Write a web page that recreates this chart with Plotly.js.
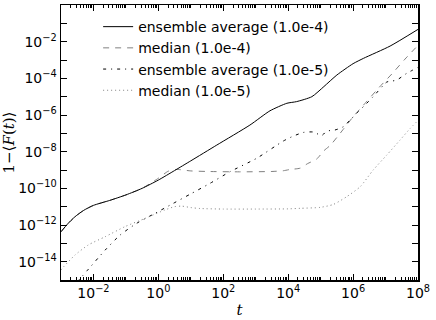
<!DOCTYPE html>
<html>
<head>
<meta charset="utf-8">
<script src="https://cdn.plot.ly/plotly-3.0.1.min.js"></script>
<style>
  html, body { margin: 0; padding: 0; background: #fff; }
  #chart { width: 436px; height: 320px; }
</style>
</head>
<body>
<div id="chart"></div>
<script>
// Values, kept as base-10 exponents (log10 t, log10 y)

// ensemble average (1.0e-4), solid black
const avg4LogT = [-3, -2.8, -2.57, -2.3, -2.0, -1.5, -1.0, -0.5, 0, 0.5, 1.0, 1.8, 2.82, 3.44, 3.96, 4.26, 4.73, 5.1, 5.5, 6.0, 6.32, 7.14, 8.0];
const avg4LogY = [-12.37, -11.95, -11.55, -11.2, -10.93, -10.66, -10.36, -10.0, -9.55, -9.03, -8.5, -7.64, -6.55, -5.77, -5.36, -5.27, -5.0, -4.45, -3.82, -3.2, -2.91, -2.24, -1.33];

// median (1.0e-4), grey dashed - sits under the solid curve at early times
const med4LogT = [-3, -2.8, -2.57, -2.3, -2.0, -1.5, -1.0, -0.5, 0, 0.3, 0.56, 1.0, 1.5, 2.5, 3.5, 3.85, 4.06, 4.37, 4.6, 4.88, 5.1, 5.3, 5.6, 6.0, 6.4, 6.8, 7.2, 7.6, 8.0];
const med4LogY = [-12.37, -11.95, -11.55, -11.2, -10.93, -10.66, -10.36, -10.0, -9.45, -9.07, -8.97, -9.05, -9.08, -9.1, -9.08, -9.04, -8.97, -8.9, -8.65, -8.4, -7.95, -7.65, -7.0, -6.1, -5.3, -4.5, -3.75, -2.95, -2.2];

// ensemble average (1.0e-5), black dash-dot
const avg5LogT = [-2.5, -2.2, -1.64, -1.18, -0.67, -0.1, 0.46, 1.0, 1.59, 2.21, 3.03, 3.85, 4.16, 4.47, 4.78, 5.03, 5.19, 5.44, 5.7, 5.91, 6.16, 6.37, 6.62, 7.04, 7.2, 7.35, 7.65, 8.0];
const avg5LogY = [-15.1, -14.5, -13.37, -12.55, -11.91, -11.36, -10.82, -10.3, -9.73, -9.09, -8.36, -7.42, -7.15, -6.95, -6.93, -7.12, -6.88, -6.82, -6.64, -6.27, -5.82, -5.45, -5.0, -4.2, -4.15, -4.09, -3.73, -3.4];

// median (1.0e-5), grey dotted
const med5LogT = [-3, -2.93, -2.57, -2.16, -1.64, -1.03, -0.41, 0.2, 0.5, 0.72, 1.0, 1.28, 2.0, 3.0, 4.0, 4.37, 4.98, 5.39, 5.8, 6.22, 6.62, 7.04, 7.45, 7.76, 8.0];
const med5LogY = [-14.45, -14.3, -13.64, -13.09, -12.64, -12.09, -11.64, -11.18, -11.0, -10.97, -11.05, -11.1, -11.13, -11.13, -11.12, -11.09, -11.04, -10.88, -10.46, -9.91, -9.0, -8.18, -7.36, -6.73, -6.3];

// labelled ticks
const xTickVals = [1e-2, 1e0, 1e2, 1e4, 1e6, 1e8];
const xTickText = ['10<sup>−2</sup>', '10<sup>0</sup>', '10<sup>2</sup>', '10<sup>4</sup>', '10<sup>6</sup>', '10<sup>8</sup>'];
const yTickVals = [1e-14, 1e-12, 1e-10, 1e-8, 1e-6, 1e-4, 1e-2];
const yTickText = ['10<sup>−14</sup>', '10<sup>−12</sup>', '10<sup>−10</sup>', '10<sup>−8</sup>', '10<sup>−6</sup>', '10<sup>−4</sup>', '10<sup>−2</sup>'];

const seriesNames = ['ensemble average (1.0e-4)', 'median (1.0e-4)', 'ensemble average (1.0e-5)', 'median (1.0e-5)'];

const toPow = arr => arr.map(v => Math.pow(10, v));

// minor ticks: x gets 1..9 per decade, y only the odd decades
const xMinor = [];
for (let n = -3; n <= 7; n++) {
  for (let k = 1; k <= 9; k++) {
    if (k === 1 && n % 2 === 0) continue;
    xMinor.push(k * Math.pow(10, n));
  }
}
const yMinor = [];
for (let n = -15; n <= 0; n += 2) yMinor.push(Math.pow(10, n));

const traces = [
  {
    x: toPow(avg4LogT), y: toPow(avg4LogY), mode: 'lines', name: seriesNames[0],
    line: { color: '#000000', width: 1, shape: 'spline', smoothing: 0.6 }
  },
  {
    x: toPow(med4LogT), y: toPow(med4LogY), mode: 'lines', name: seriesNames[1],
    line: { color: '#808080', width: 1, dash: '6px,6px', shape: 'spline', smoothing: 0.6 }
  },
  {
    x: toPow(avg5LogT), y: toPow(avg5LogY), mode: 'lines', name: seriesNames[2],
    line: { color: '#000000', width: 1, dash: '3px,5px,1px,5px', shape: 'spline', smoothing: 0.6 }
  },
  {
    x: toPow(med5LogT), y: toPow(med5LogY), mode: 'lines', name: seriesNames[3],
    line: { color: '#808080', width: 1, dash: '1px,3px', shape: 'spline', smoothing: 0.6 }
  }
];

// draw the solid curve last so the median hides under it at early times
const order = [traces[1], traces[2], traces[3], traces[0]];

const axisCommon = {
  type: 'log',
  showgrid: false,
  zeroline: false,
  showline: true,
  linecolor: '#000',
  linewidth: 1.5,
  mirror: 'ticks',
  ticks: 'inside',
  tickcolor: '#000',
  ticklen: 6,
  tickwidth: 1,
  tickmode: 'array',
  tickfont: { family: 'DejaVu Sans', size: 14, color: '#000' }
};

const layout = {
  width: 436,
  height: 320,
  margin: { l: 61, r: 18, t: 5, b: 40 },
  paper_bgcolor: '#fff',
  plot_bgcolor: '#fff',
  showlegend: true,
  xaxis: Object.assign({}, axisCommon, {
    range: [-3, 8],
    tickvals: xTickVals,
    ticktext: xTickText,
    minor: { tickmode: 'array', tickvals: xMinor, ticks: 'inside', ticklen: 3, tickcolor: '#000', tickwidth: 1 },
    title: { text: '<i>t</i>', font: { family: 'DejaVu Serif', size: 15, color: '#000' }, standoff: 4 }
  }),
  yaxis: Object.assign({}, axisCommon, {
    range: [-15, 0],
    tickvals: yTickVals,
    ticktext: yTickText,
    minor: { tickmode: 'array', tickvals: yMinor, ticks: 'inside', ticklen: 6, tickcolor: '#000', tickwidth: 1 },
    title: { text: '1−⟨<i>F</i>(<i>t</i>)⟩', font: { family: 'DejaVu Serif', size: 15, color: '#000' }, standoff: 6 }
  }),
  legend: {
    x: 0.104, y: 0.978, xanchor: 'left', yanchor: 'top',
    bgcolor: 'rgba(0,0,0,0)', borderwidth: 0,
    traceorder: 'normal',
    font: { family: 'DejaVu Sans', size: 14, color: '#000' },
    tracegroupgap: 0
  }
};

// legend order follows the original series order
order.forEach((t) => { t.legendrank = seriesNames.indexOf(t.name) + 1; });

Plotly.newPlot('chart', order, layout, { staticPlot: true, displayModeBar: false });
</script>
</body>
</html>
